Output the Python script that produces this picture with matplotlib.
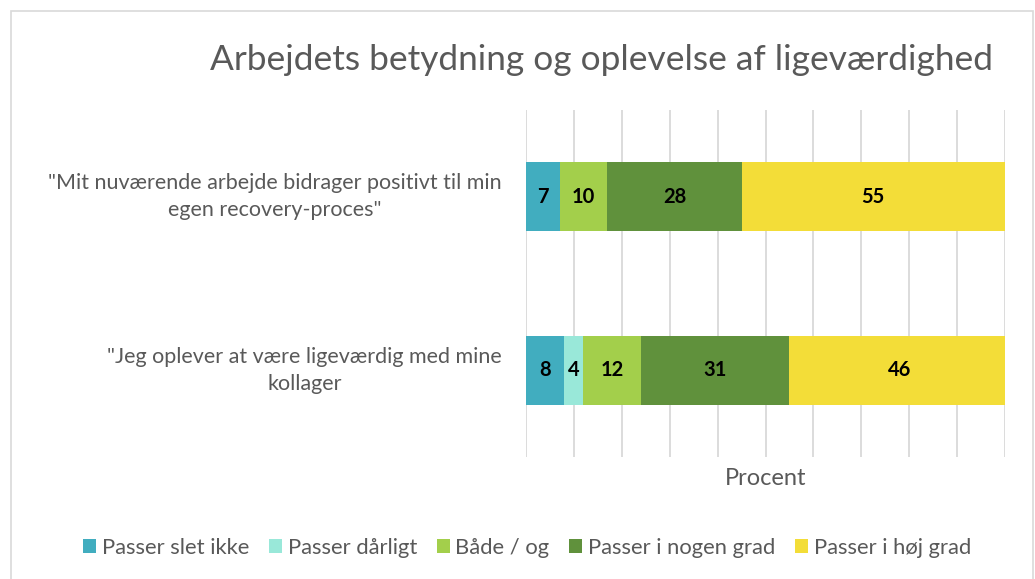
import matplotlib.pyplot as plt
import numpy as np
from matplotlib.patches import Rectangle

plt.rcParams['font.family'] = ['Lato', 'DejaVu Sans']

categories = ['"Jeg oplever at være ligeværdig med mine\nkollager',
              '"Mit nuværende arbejde bidrager positivt til min\negen recovery-proces"']
series_names = ["Passer slet ikke", "Passer dårligt", "Både / og",
                "Passer i nogen grad", "Passer i høj grad"]
slet_ikke = [8, 7]
daarligt = [4, 0]
baade_og = [12, 10]
nogen_grad = [31, 28]
hoej_grad = [46, 55]
colors = ["#41ADBF", "#99E8D9", "#A3CF4B", "#60913C", "#F3DD38"]

series = [slet_ikke, daarligt, baade_og, nogen_grad, hoej_grad]
grey = "#595959"

fig = plt.figure(figsize=(10.35, 5.79), dpi=100)
fig.patches.append(Rectangle((11 / 1035, -0.05), (1033 - 11) / 1035, 1 - 11 / 579 + 0.05,
                             transform=fig.transFigure, fill=False,
                             edgecolor="#D9D9D9", linewidth=1.2))
ax = fig.add_axes([526 / 1035, 1 - 457 / 579, 479 / 1035, 347 / 579])

y = np.arange(len(categories))
left = np.zeros(len(categories))
for name, vals, c in zip(series_names, series, colors):
    vals = np.array(vals, dtype=float)
    bars = ax.barh(y, vals, left=left, height=0.4, color=c, label=name, zorder=2)
    for b, v in zip(bars, vals):
        if v > 0:
            ax.text(b.get_x() + b.get_width() / 2, b.get_y() + b.get_height() / 2,
                    f"{int(v)}", ha="center", va="center", fontsize=14.5,
                    fontweight="bold", color="black", zorder=3)
    left += vals

ax.set_xlim(0, 100)
ax.set_ylim(-0.5, 1.5)
ax.set_xticks(np.arange(0, 101, 10))
ax.tick_params(axis="x", length=0, labelbottom=False)
ax.set_yticks(y)
ax.set_yticklabels([])
ax.tick_params(axis="y", length=0)
for yi, lab in zip(y, categories):
    ax.text(-0.05, yi, lab, transform=ax.get_yaxis_transform(), ha="right", va="center",
            multialignment="center", fontsize=15.5, color=grey, linespacing=1.45)
ax.grid(axis="x", color="#D9D9D9", linewidth=1.3, zorder=0)
for s in ax.spines.values():
    s.set_visible(False)
ax.set_xlabel("Procent", fontsize=17, color=grey, labelpad=8)

fig.text(601 / 1035, 1 - 60 / 579, "Arbejdets betydning og oplevelse af ligeværdighed",
         ha="center", va="center", fontsize=25.4, color=grey)

leg = fig.legend(loc="center", bbox_to_anchor=(527 / 1035, 1 - 548 / 579), ncol=5,
                 frameon=False, fontsize=15.8, handlelength=0.6, handleheight=0.6,
                 handletextpad=0.25, columnspacing=0.9)
for t in leg.get_texts():
    t.set_color(grey)

fig.savefig("out.png", dpi=100)
